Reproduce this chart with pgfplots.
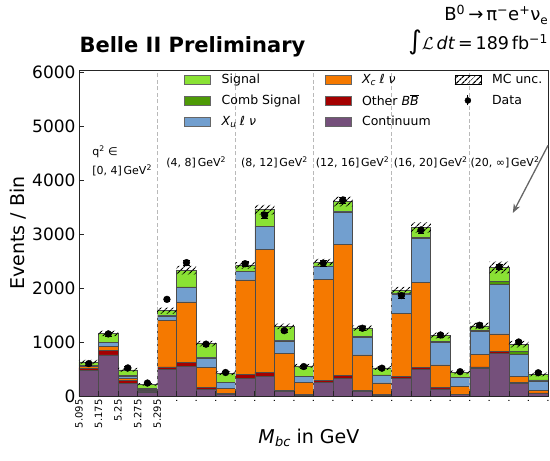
\documentclass[border=0pt]{standalone}
\usepackage{fontspec}
\setmainfont{DejaVu Sans}
\usepackage{pgfplots}
\pgfplotsset{compat=1.18}
\usepackage{pgfplotstable}
\usetikzlibrary{patterns.meta,arrows.meta}

\definecolor{Sig}{HTML}{8AE234}
\definecolor{CombSig}{HTML}{4E9A06}
\definecolor{Xu}{HTML}{729FCF}
\definecolor{Xc}{HTML}{F57900}
\definecolor{OtherBB}{HTML}{A40000}
\definecolor{Cont}{HTML}{75507B}

% 24 bins: 6 q^2 bins x 4 Mbc bins, stacked components + MC unc + data
\pgfplotstableread{
x    cont oth xc   xu  comb sig base band data err
0.5  470  45  30   20  5    60  590  80   600  24
1.5  760  90  75   65  5    165 1110 100  1150 34
2.5  240  45  45   40  5    110 450  70   520  23
3.5  75   15  15   15  20   75  190  50   240  15
4.5  490  50  865  80  5    90  1525 110  1790 42
5.5  545  80  1120 265 10   310 2250 160  2470 50
6.5  125  30  375  175 5    260 920  100  960  31
7.5  40   15  90   105 5    165 385  70   435  21
8.5  330  70  1750 155 5    110 2360 120  2450 49
9.5  360  80  2276 420 10   304 3360 180  3350 58
10.5 80   30  680  230 10   260 1240 100  1210 35
11.5 20   10  225  105 5    195 525  70   545  23
12.5 255  40  1865 245 5    70  2420 120  2460 50
13.5 330  45  2430 605 10   180 3510 180  3630 60
14.5 90   20  650  330 10   160 1210 100  1255 35
15.5 20   10  215  140 5    130 485  70   515  23
16.5 330  40  1160 360 10   60  1900 120  1860 43
17.5 495  30  1575 820 20   180 3025 190  3075 55
18.5 130  25  420  415 15   115 1065 110  1130 34
19.5 25   10  140  165 10   90  405  70   450  21
20.5 510  30  230  425 20   85  1240 120  1310 36
21.5 790  30  330  920 50   260 2270 220  2390 49
22.5 235  20  105  415 50   135 900  120  1000 32
23.5 45   15  40   180 20   100 365  70   430  21
}\mbc

\pgfplotsset{
  chartframe/.style={scale only axis, width=469pt, height=326pt,
    xmin=0, xmax=24, ymin=0, ymax=6037},
}
\newcommand\legpatch[1]{\addlegendimage{legend image code/.code={%
  \filldraw[fill=#1, draw=black!60, line width=0.5pt] (0pt,-4.5pt) rectangle (26pt,4.5pt);}}}
\newcommand\qfont{\fontsize{11}{13}\selectfont}

\begin{document}
\begin{tikzpicture}
\path[use as bounding box] (-79pt,-65pt) rectangle (471pt,396pt);

\begin{axis}[chartframe, ybar stacked, bar width=1, axis on top,
  axis line style={black!85, line width=0.8pt},
  tick align=inside, major tick length=5pt,
  tick style={black!85, line width=0.8pt},
  xtick pos=left, ytick pos=left,
  xtick={0,...,24},
  xticklabels={5.095,5.175,5.25,5.275,5.295,.,.,.,.,.,.,.,.,.,.,.,.,.,.,.,.,.,.,.,.},
  xticklabel style={rotate=90, anchor=east, font=\fontsize{10}{12}\selectfont},
  ytick={0,1000,...,6000},
  yticklabel style={font=\fontsize{17}{19}\selectfont},
  /pgf/number format/1000 sep={},
  /pgf/number format/assume math mode=true,
  ylabel={Events / Bin},
  ylabel style={at={(axis description cs:-0.130,0.5)}, anchor=center,
    font=\fontsize{19}{21}\selectfont},
  xlabel={\textit{M\kern0.5pt}\raisebox{-3pt}{\fontsize{13}{13}\selectfont\textit{bc}} in GeV},
  xlabel style={at={(axis description cs:0.49,-0.129)}, anchor=center,
    font=\fontsize{19}{21}\selectfont},
]
\draw[gray!55, dash pattern=on 4pt off 2.5pt, line width=0.8pt] (axis cs:4,0) -- (axis cs:4,6037);
\draw[gray!55, dash pattern=on 4pt off 2.5pt, line width=0.8pt] (axis cs:8,0) -- (axis cs:8,6037);
\draw[gray!55, dash pattern=on 4pt off 2.5pt, line width=0.8pt] (axis cs:12,0) -- (axis cs:12,6037);
\draw[gray!55, dash pattern=on 4pt off 2.5pt, line width=0.8pt] (axis cs:16,0) -- (axis cs:16,6037);
\draw[gray!55, dash pattern=on 4pt off 2.5pt, line width=0.8pt] (axis cs:20,0) -- (axis cs:20,6037);
\addplot[fill=Cont, draw=black!70, line width=0.5pt]    table[x=x, y=cont]{\mbc};
\addplot[fill=OtherBB, draw=black!70, line width=0.5pt] table[x=x, y=oth]{\mbc};
\addplot[fill=Xc, draw=black!70, line width=0.5pt]      table[x=x, y=xc]{\mbc};
\addplot[fill=Xu, draw=black!70, line width=0.5pt]      table[x=x, y=xu]{\mbc};
\addplot[fill=CombSig, draw=black!70, line width=0.5pt] table[x=x, y=comb]{\mbc};
\addplot[fill=Sig, draw=black!70, line width=0.5pt]     table[x=x, y=sig]{\mbc};
\end{axis}

% MC uncertainty band
\begin{axis}[chartframe, hide axis, ybar stacked, bar width=1]
\addplot[draw=none, fill=none] table[x=x, y=base]{\mbc};
\addplot[draw=none, pattern={Lines[angle=45, distance=4pt, line width=1.2pt]},
  pattern color=black] table[x=x, y=band]{\mbc};
\end{axis}

% data, annotations and legend
\begin{axis}[chartframe, hide axis, clip=false,
  legend columns=3,
  legend style={at={(axis cs:5.22,6037)}, anchor=north west, draw=none, fill=none,
    font=\fontsize{12.5}{14}\selectfont, column sep=9pt, row sep=5pt,
    /tikz/every even column/.append style={column sep=22pt}},
  legend cell align=left,
]
\addplot[only marks, mark=*, mark size=3.4pt, black, forget plot,
  error bars/.cd, y dir=both, y explicit,
  error bar style={black, line width=0.8pt}]
  table[x=x, y=data, y error=err]{\mbc};
\node[anchor=west, font=\qfont] at (axis cs:0.5,4519) {q\textsuperscript{2} ∈};
\node[anchor=west, font=\qfont] at (axis cs:0.5,4185) {[0, 4]\,GeV\textsuperscript{2}};
\node[font=\qfont] at (axis cs:6,4333) {(4, 8]\,GeV\textsuperscript{2}};
\node[font=\qfont] at (axis cs:10,4333) {(8, 12]\,GeV\textsuperscript{2}};
\node[font=\qfont] at (axis cs:14,4333) {(12, 16]\,GeV\textsuperscript{2}};
\node[font=\qfont] at (axis cs:18,4333) {(16, 20]\,GeV\textsuperscript{2}};
\node[font=\qfont] at (axis cs:21.8,4333) {(20, ∞]\,GeV\textsuperscript{2}};
\draw[-{Stealth[length=9pt,width=7pt]}, black!60, line width=1.3pt]
  (axis cs:24,4640) -- (axis cs:22.2,3389);
\legpatch{Sig}
\addlegendentry{Signal}
\legpatch{Xc}
\addlegendentry{\textit{X\raisebox{-2pt}{\fontsize{9}{9}\selectfont c} ℓ ν}}
\addlegendimage{legend image code/.code={%
  \fill[pattern={Lines[angle=45, distance=4pt, line width=1.2pt]}, pattern color=black]
    (0pt,-4.5pt) rectangle (26pt,4.5pt);}}
\addlegendentry{MC unc.}
\legpatch{CombSig}
\addlegendentry{Comb Signal}
\legpatch{OtherBB}
\addlegendentry{Other \textit{B}$\overline{\mbox{\textit{B}}}$}
\addlegendimage{legend image code/.code={%
  \draw[black, line width=0.8pt] (13pt,-5pt) -- (13pt,5pt);
  \fill[black] (13pt,0pt) circle (3pt);}}
\addlegendentry{Data}
\legpatch{Xu}
\addlegendentry{\textit{X\raisebox{-2pt}{\fontsize{9}{9}\selectfont u} ℓ ν}}
\legpatch{Cont}
\addlegendentry{Continuum}
\end{axis}

\node[anchor=base west, font=\bfseries\fontsize{21}{24}\selectfont]
  at (-3pt,343.5pt) {Belle II Preliminary};
\node[anchor=base east, font=\fontsize{18}{20}\selectfont, inner sep=0pt]
  at (469pt,375pt) {B\textsuperscript{0}\,→\,π\textsuperscript{−}e\textsuperscript{+}ν\raisebox{-3.5pt}{\fontsize{12}{12}\selectfont e}};
\node[anchor=base east, font=\fontsize{17.5}{20}\selectfont, inner sep=0pt]
  at (469pt,346pt) {{\fontsize{26}{26}\selectfont ∫}$\mathcal{L}$\,\textit{dt}\,=\,189\,fb\textsuperscript{−1}};
\end{tikzpicture}
\end{document}
